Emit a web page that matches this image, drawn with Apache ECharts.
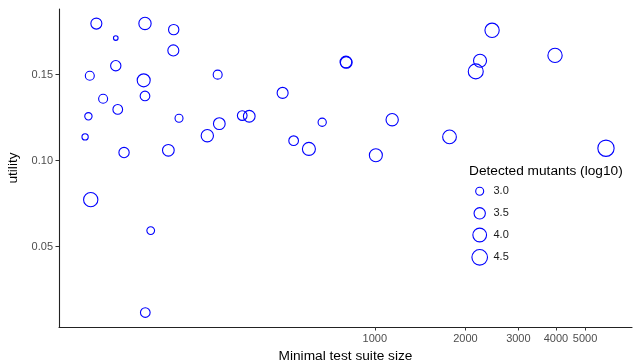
<!DOCTYPE html>
<html>
<head>
<meta charset="utf-8">
<script src="https://cdn.jsdelivr.net/npm/echarts@6/dist/echarts.min.js"></script>
<style>
html,body{margin:0;padding:0;background:#fff;overflow:hidden;}
#chart{width:634px;height:362px;}
</style>
</head>
<body>
<div id="chart"></div>
<script>
// Minimal test suite size (x, log scale)
var suiteSize = [118.6, 172.1, 214.4, 137.6, 213.8, 137.6, 112.8, 170.4, 300.2, 124.9,
                 172.1, 493.6, 139.7, 111.6, 223.3, 362.3, 382.3, 304.0, 108.8, 277.3,
                 537.0, 603.6, 146.6, 205.8, 668.2, 113.6, 179.8, 172.5, 2453, 801.3,
                 803.5, 2237, 2165, 3972, 1141.7, 1771, 1007.7, 5867];
// utility (y)
var utility = [0.1797, 0.1798, 0.1762, 0.1713, 0.1641, 0.1552, 0.1494, 0.1467, 0.1500, 0.1360,
               0.1376, 0.1394, 0.1298, 0.1258, 0.1246, 0.1262, 0.1258, 0.1215, 0.1138, 0.1145,
               0.1116, 0.1068, 0.1047, 0.1060, 0.1223, 0.0773, 0.0593, 0.0116, 0.1758, 0.1574,
               0.1571, 0.1581, 0.1519, 0.1612, 0.1238, 0.1138, 0.1031, 0.1072];
// Detected mutants (log10) -> point size
var mutants = [3.44, 3.69, 3.32, 2.75, 3.44, 3.32, 3.12, 3.84, 3.12, 3.12,
               3.22, 3.44, 3.22, 2.93, 3.00, 3.22, 3.57, 3.57, 2.84, 3.69,
               3.22, 3.84, 3.32, 3.57, 3.03, 4.15, 2.97, 3.22, 4.15, 3.57,
               3.57, 3.84, 4.33, 4.15, 3.69, 4.00, 3.84, 4.70];
var xTicks = [1000, 2000, 3000, 4000, 5000];
var yTicks = [0.05, 0.10, 0.15];
var legendValues = [3.0, 3.5, 4.0, 4.5];

var BLUE = '#0000ff';
var FONT = '"Liberation Sans", Arial, sans-serif';

function sizeFor(m) {
  return 4 + 9.45 * Math.sqrt(Math.max(0, m - 2.72)) - 1;
}

var data = suiteSize.map(function (s, i) { return [s, utility[i], mutants[i]]; });

var chart = echarts.init(document.getElementById('chart'), null, {renderer: 'canvas'});

var graphics = [{
  type: 'text', left: 469, top: 164.5,
  style: {text: 'Detected mutants (log10)', font: '13.7px ' + FONT, fill: '#000'}
}];
var legendY = [191.3, 213.3, 235, 257.3];
legendValues.forEach(function (v, i) {
  var r = sizeFor(v) / 2;
  graphics.push({
    type: 'circle', shape: {cx: 479.7, cy: legendY[i], r: r},
    style: {fill: 'none', stroke: BLUE, lineWidth: 1.1}
  });
  graphics.push({
    type: 'text', x: 493.5, y: legendY[i],
    style: {text: v.toFixed(1), font: '11px ' + FONT, fill: '#1a1a1a', verticalAlign: 'middle'}
  });
});

chart.setOption({
  animation: false,
  backgroundColor: '#fff',
  grid: {left: 59, right: 2, top: 9, bottom: 35, containLabel: false, outerBoundsMode: 'none'},
  xAxis: {
    type: 'log', logBase: 10, min: 89.1, max: 7160,
    name: 'Minimal test suite size', nameLocation: 'middle', nameGap: 17.5,
    nameTextStyle: {fontFamily: FONT, fontSize: 13.7, color: '#000'},
    axisLine: {show: true, lineStyle: {color: '#222', width: 1.1}},
    axisTick: {show: true, length: 3.5, lineStyle: {color: '#333', width: 1}, customValues: xTicks},
    axisLabel: {customValues: xTicks, margin: 6, fontFamily: FONT, fontSize: 11, color: '#4d4d4d',
      formatter: function (v) { return String(Math.round(v)); }},
    splitLine: {show: false}, minorTick: {show: false}, minorSplitLine: {show: false}
  },
  yAxis: {
    type: 'value', min: 0.0032, max: 0.1882,
    name: 'utility', nameLocation: 'middle', nameGap: 34,
    nameTextStyle: {fontFamily: FONT, fontSize: 13.7, color: '#000'},
    axisLine: {show: true, lineStyle: {color: '#222', width: 1.1}},
    axisTick: {show: true, length: 3.5, lineStyle: {color: '#333', width: 1}, customValues: yTicks},
    axisLabel: {customValues: yTicks, margin: 6, fontFamily: FONT, fontSize: 11, color: '#4d4d4d',
      formatter: function (v) { return v.toFixed(2); }},
    splitLine: {show: false}
  },
  series: [{
    type: 'scatter',
    data: data,
    symbol: 'circle',
    symbolSize: function (val) { return sizeFor(val[2]); },
    itemStyle: {color: 'rgba(0,0,0,0)', borderColor: BLUE, borderWidth: 1.1, opacity: 1},
    emphasis: {disabled: true}
  }],
  graphic: graphics
});
</script>
</body>
</html>
